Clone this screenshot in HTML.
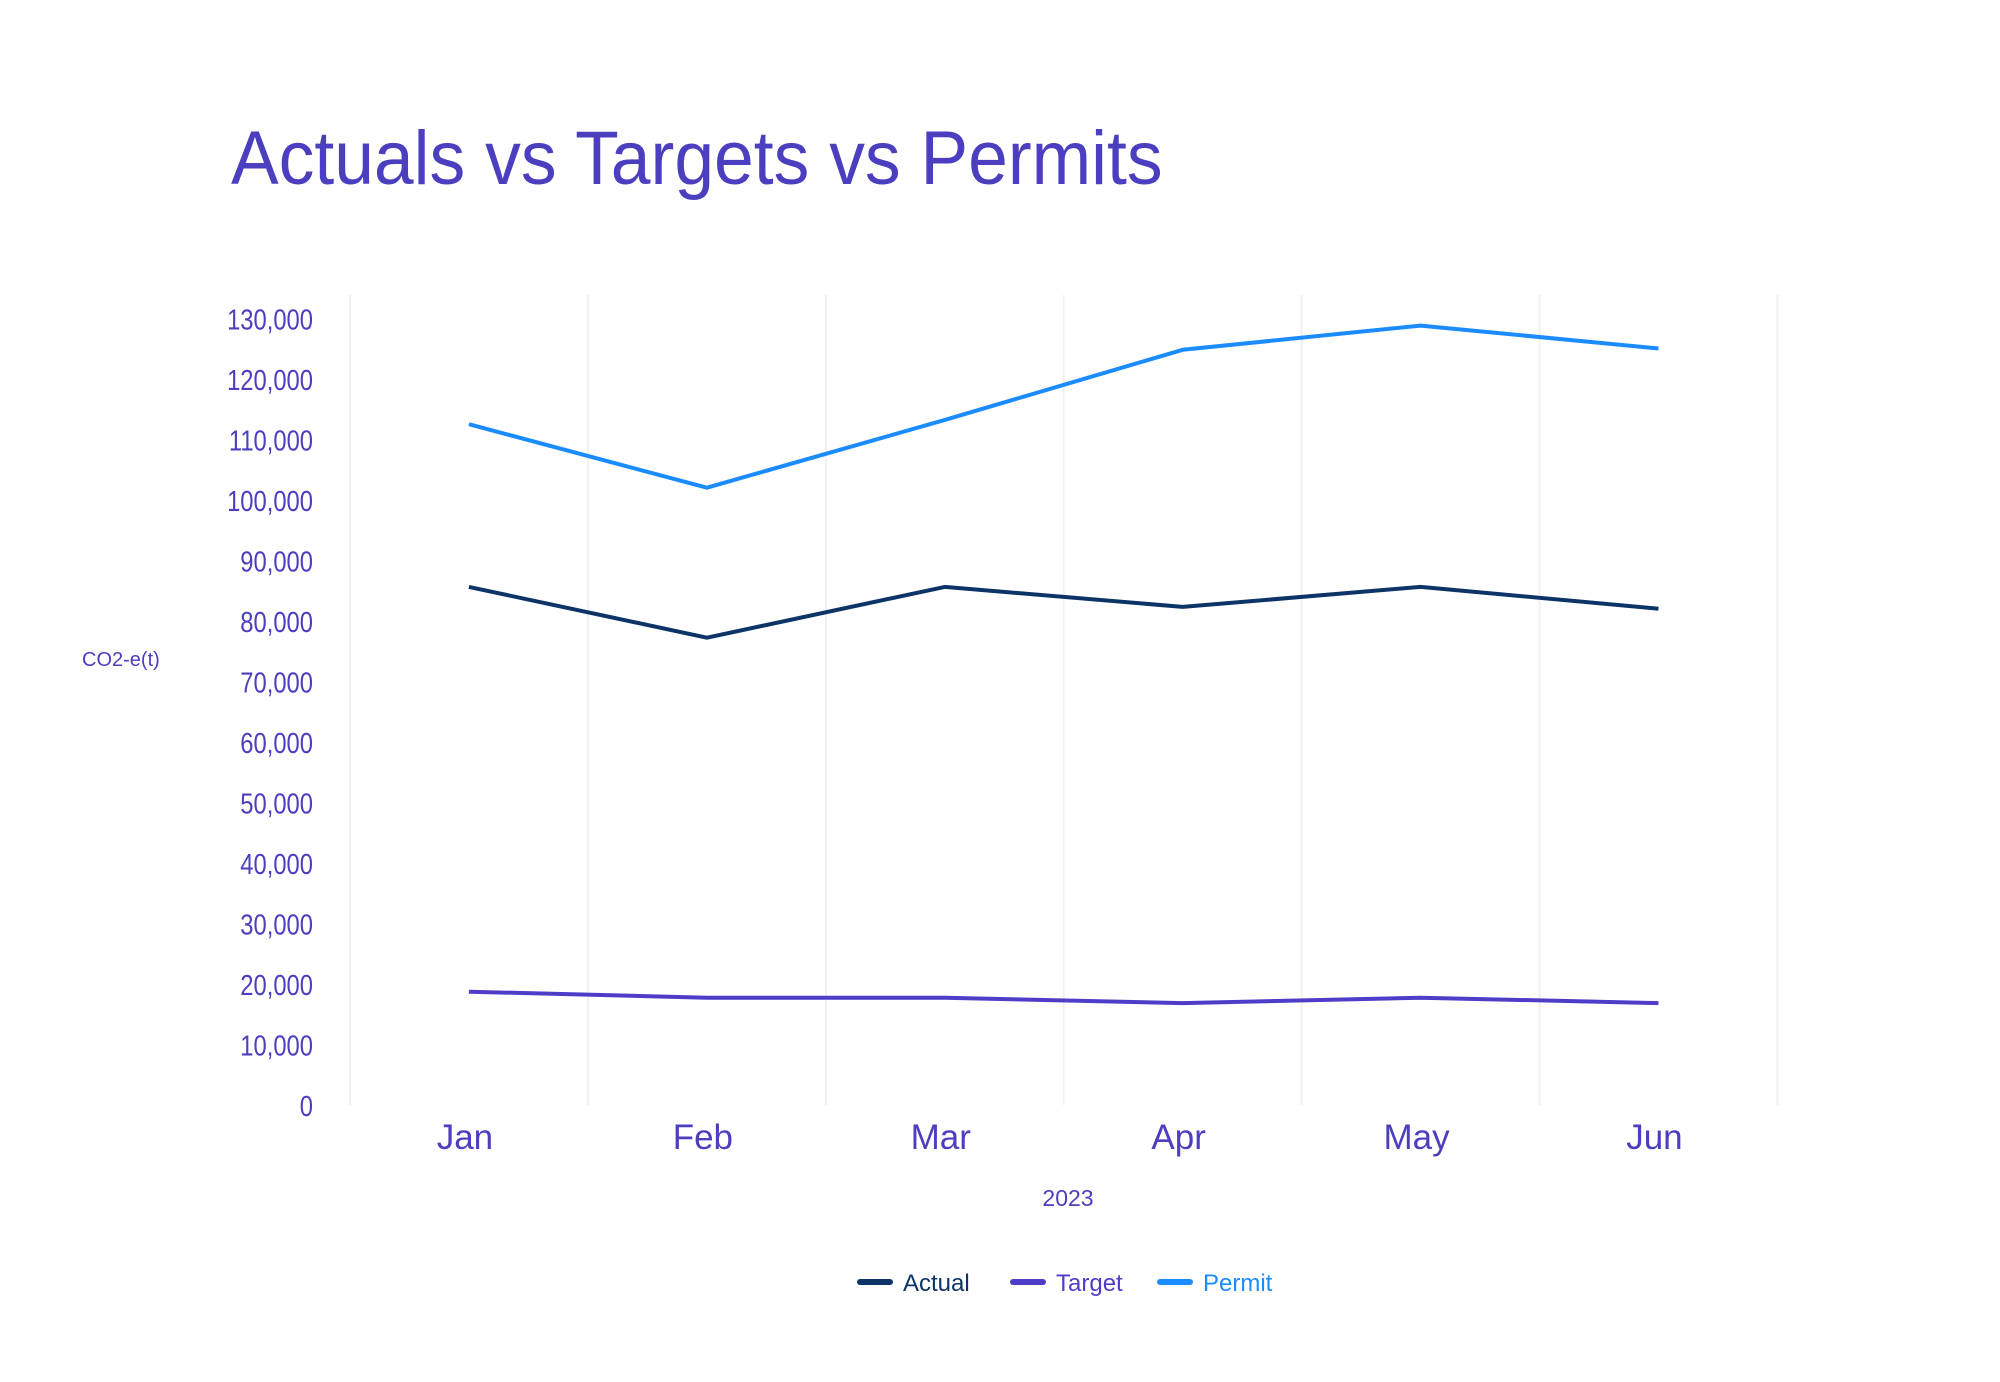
<!DOCTYPE html>
<html><head><meta charset="utf-8"><style>
html,body{margin:0;padding:0;background:#fff;width:2000px;height:1382px;overflow:hidden}
svg text{font-family:"Liberation Sans",sans-serif}
</style></head><body>
<svg id="chart" width="2000" height="1382" viewBox="0 0 2000 1382" xmlns="http://www.w3.org/2000/svg">
<text x="231" y="184" font-size="76" fill="#4b3fbf" transform="translate(231 0) scale(0.94 1) translate(-231 0)">Actuals vs Targets vs Permits</text>
<text x="82" y="666" font-size="20" fill="#4b3fbf">CO2-e(t)</text>
<text x="1068" y="1206" font-size="23" fill="#4b3fbf" text-anchor="middle">2023</text>
<g id="grid"></g><g id="yticks"></g><g id="xticks"></g><g id="series"></g>
<g>
<g><line x1="860" y1="1282" x2="890" y2="1282" stroke="#0d3467" stroke-width="6" stroke-linecap="round"/><text x="903" y="1291" font-size="24" fill="#0d3467">Actual</text></g>
<g><line x1="1013" y1="1282" x2="1043" y2="1282" stroke="#4f3cc9" stroke-width="6" stroke-linecap="round"/><text x="1056" y="1291" font-size="24" fill="#4f3cc9">Target</text></g>
<g><line x1="1160" y1="1282" x2="1190" y2="1282" stroke="#1a8cff" stroke-width="6" stroke-linecap="round"/><text x="1203" y="1291" font-size="24" fill="#1a8cff">Permit</text></g>
</g>
</svg>
<script>
const categories=["Jan","Feb","Mar","Apr","May","Jun"];
const actualValues=[85800,77400,85800,82500,85800,82200];
const targetValues=[18900,17900,17900,17000,17900,17000];
const permitValues=[112700,102200,113400,125000,129000,125200];
const yTickValues=[0,10000,20000,30000,40000,50000,60000,70000,80000,90000,100000,110000,120000,130000];
const NS="http://www.w3.org/2000/svg";
const plotL=350,bandW=237.9,plotTop=295,plotBot=1105;
function xScale(i){return plotL+bandW*(i+0.5);}
function yScale(v){return 1106-v*0.00605;}
function mk(tag,attrs,parent){const e=document.createElementNS(NS,tag);for(const k in attrs)e.setAttribute(k,attrs[k]);parent.appendChild(e);return e;}
const grid=document.getElementById('grid');
for(let i=0;i<=categories.length;i++){
  const l=mk('line',{x1:plotL+bandW*i,x2:plotL+bandW*i,y1:plotTop,y2:plotBot,stroke:'#f4eff1','stroke-width':2},grid);
  
  
}
const yt=document.getElementById('yticks');
yTickValues.forEach(v=>{
  const t=mk('text',{x:313,y:yScale(v)+10,'font-size':29,fill:'#4b3fbf','text-anchor':'end',transform:`translate(313 0) scale(0.82 1) translate(-313 0)`},yt);
  t.textContent=v.toLocaleString('en-US');
  
  
});
const xt=document.getElementById('xticks');
categories.forEach((c,i)=>{
  const t=mk('text',{x:xScale(i)-4,y:1149,'font-size':35,fill:'#4b3fbf','text-anchor':'middle'},xt);
  t.textContent=c;
  
  
});
const sg=document.getElementById('series');
[[actualValues,'#0d3467','actual-line'],[targetValues,'#4f3cc9','target-line'],[permitValues,'#1a8cff','permit-line']].forEach(([vals,col,name])=>{
  const d=vals.map((v,i)=>(i?'L':'M')+xScale(i).toFixed(1)+' '+yScale(v).toFixed(1)).join(' ');
  const p=mk('path',{d:d,fill:'none',stroke:col,'stroke-width':4,'stroke-linejoin':'round'},sg);
  
  
});
</script>
</body></html>
